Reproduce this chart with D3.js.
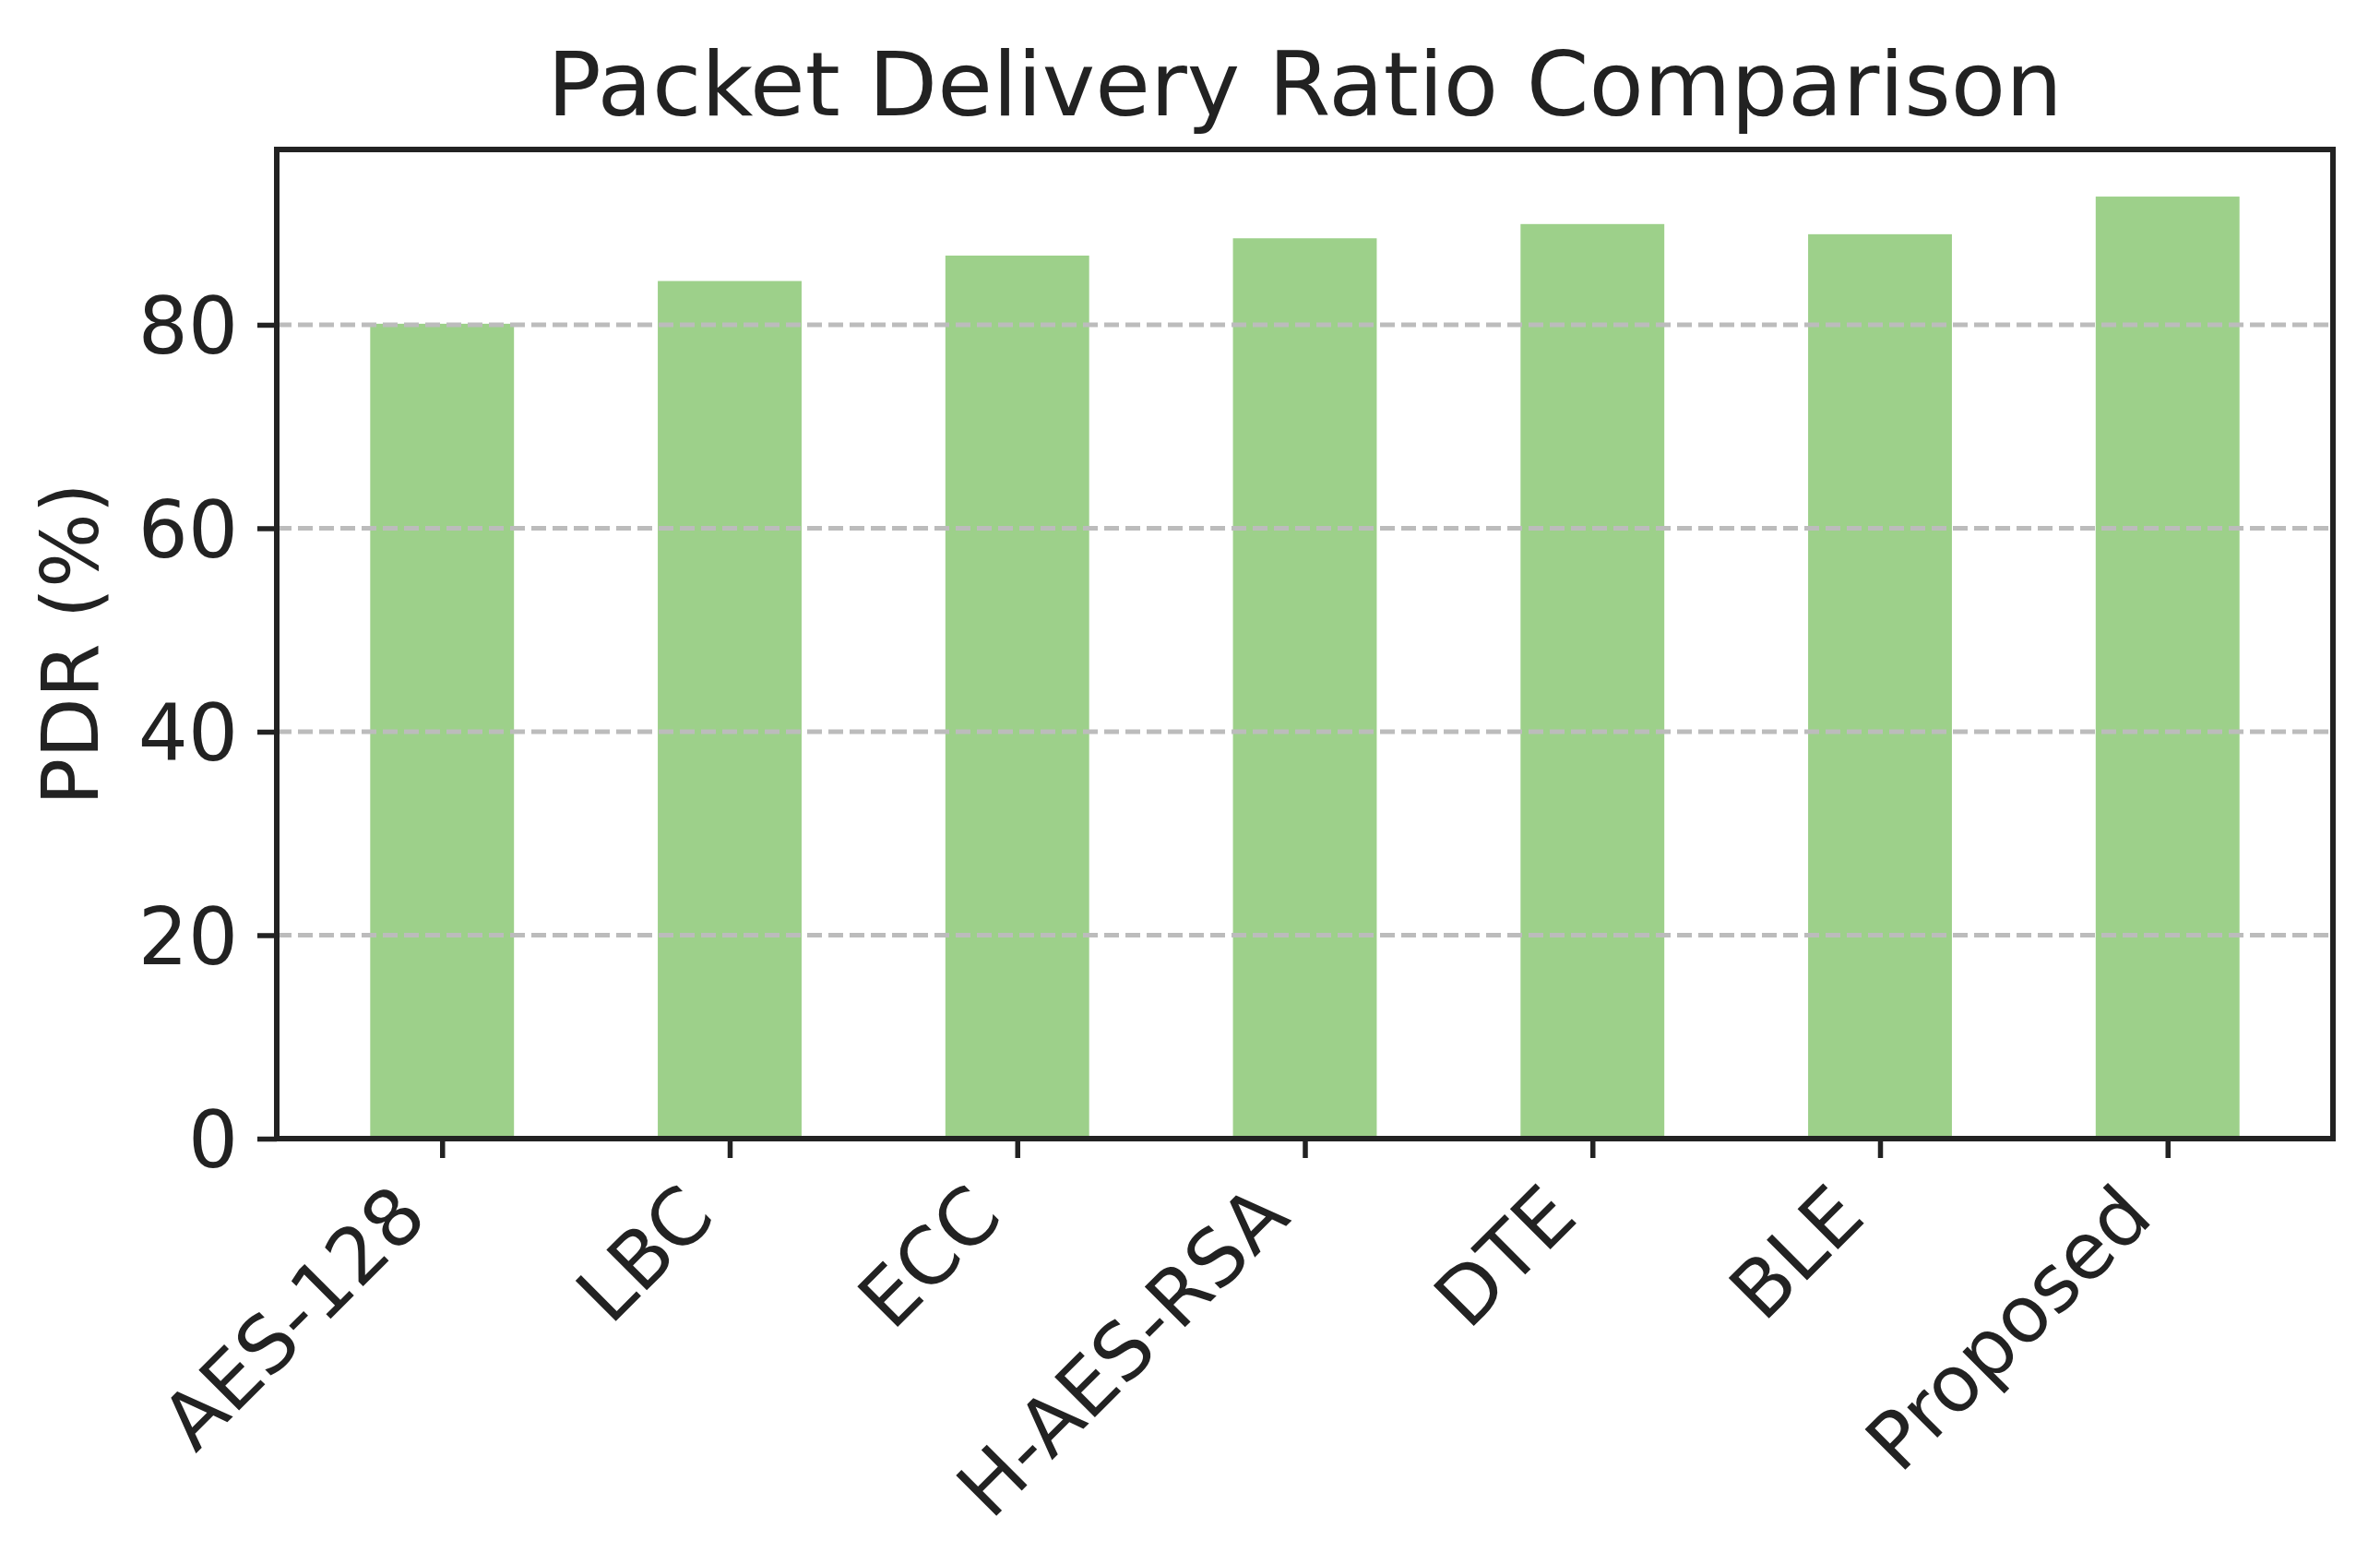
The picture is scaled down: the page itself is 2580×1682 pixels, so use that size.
<!DOCTYPE html>
<html>
<head>
<meta charset="utf-8">
<script src="https://cdn.jsdelivr.net/npm/d3@7"></script>
<style>
  body { margin: 0; background: #fff; }
  text { font-family: "DejaVu Sans", sans-serif; fill: #222; }
</style>
</head>
<body>
<div id="chart"></div>
<script>
// data
var methods = ['AES-128', 'LBC', 'ECC', 'H-AES-RSA', 'DTE', 'BLE', 'Proposed'];
var pdr = [80.1, 84.3, 86.8, 88.5, 89.9, 88.9, 92.6];
var yTicks = [0, 20, 40, 60, 80];

var W = 2580, H = 1682;
var margin = { top: 162, right: 51, bottom: 448, left: 300 },
  width = W - margin.left - margin.right,
  height = H - margin.top - margin.bottom;

var svg = d3.select('#chart')
  .append('svg')
  .attr('width', W)
  .attr('height', H)
  .style('background', '#fff');

var g = svg.append('g')
  .attr('transform', 'translate(' + margin.left + ',' + margin.top + ')');

// matplotlib style: bars of width 0.5, 5% margins
var n = methods.length;
var x = d3.scaleLinear()
  .domain([-0.25 - 0.05 * (n - 0.5), n - 0.75 + 0.05 * (n - 0.5)])
  .range([0, width]);

var y = d3.scaleLinear()
  .domain([0, d3.max(pdr) * 1.05])
  .range([height, 0]);

// bars
g.selectAll('rect.bar')
  .data(pdr)
  .enter()
  .append('rect')
  .attr('class', 'bar')
  .attr('x', function(d, i) { return x(i - 0.25); })
  .attr('width', x(0.5) - x(0))
  .attr('y', function(d) { return y(d); })
  .attr('height', function(d) { return y(0) - y(d); })
  .style('fill', '#9dd08a');

// dashed grid, drawn over the bars
g.selectAll('line.grid')
  .data(yTicks.filter(function(d) { return d > 0; }))
  .enter()
  .append('line')
  .attr('class', 'grid')
  .attr('x1', 0)
  .attr('x2', width)
  .attr('y1', function(d) { return y(d); })
  .attr('y2', function(d) { return y(d); })
  .style('stroke', '#bcbcbc')
  .style('stroke-width', 5)
  .style('stroke-dasharray', '16,7');

// y axis
var yAxis = g.append('g')
  .call(d3.axisLeft(y).tickValues(yTicks).tickSize(21).tickPadding(21));
yAxis.select('.domain').remove();
yAxis.selectAll('line').style('stroke', '#222').style('stroke-width', 5.5);
yAxis.selectAll('text')
  .style('font-size', '85px')
  .style('fill', '#222')
  .attr('dy', '0.36em');

// x axis
var xAxis = g.append('g')
  .attr('transform', 'translate(0,' + height + ')')
  .call(d3.axisBottom(x)
    .tickValues(d3.range(n))
    .tickFormat(function(i) { return methods[i]; })
    .tickSize(21));
xAxis.select('.domain').remove();
xAxis.selectAll('line').style('stroke', '#222').style('stroke-width', 5.5);
xAxis.selectAll('text')
  .style('font-size', '85px')
  .style('fill', '#222')
  .attr('text-anchor', 'end')
  .attr('x', 0)
  .attr('y', 0)
  .attr('dy', null)
  .attr('transform', 'translate(-14,88) rotate(-45)');

// frame
g.append('rect')
  .attr('width', width)
  .attr('height', height)
  .style('fill', 'none')
  .style('stroke', '#222')
  .style('stroke-width', 6);

// y label
svg.append('text')
  .attr('transform', 'translate(106,' + (margin.top + height / 2) + ') rotate(-90)')
  .attr('text-anchor', 'middle')
  .style('font-size', '85px')
  .text('PDR (%)');

// title
svg.append('text')
  .attr('x', margin.left + width / 2)
  .attr('y', 125)
  .attr('text-anchor', 'middle')
  .style('font-size', '97px')
  .text('Packet Delivery Ratio Comparison');
</script>
</body>
</html>
